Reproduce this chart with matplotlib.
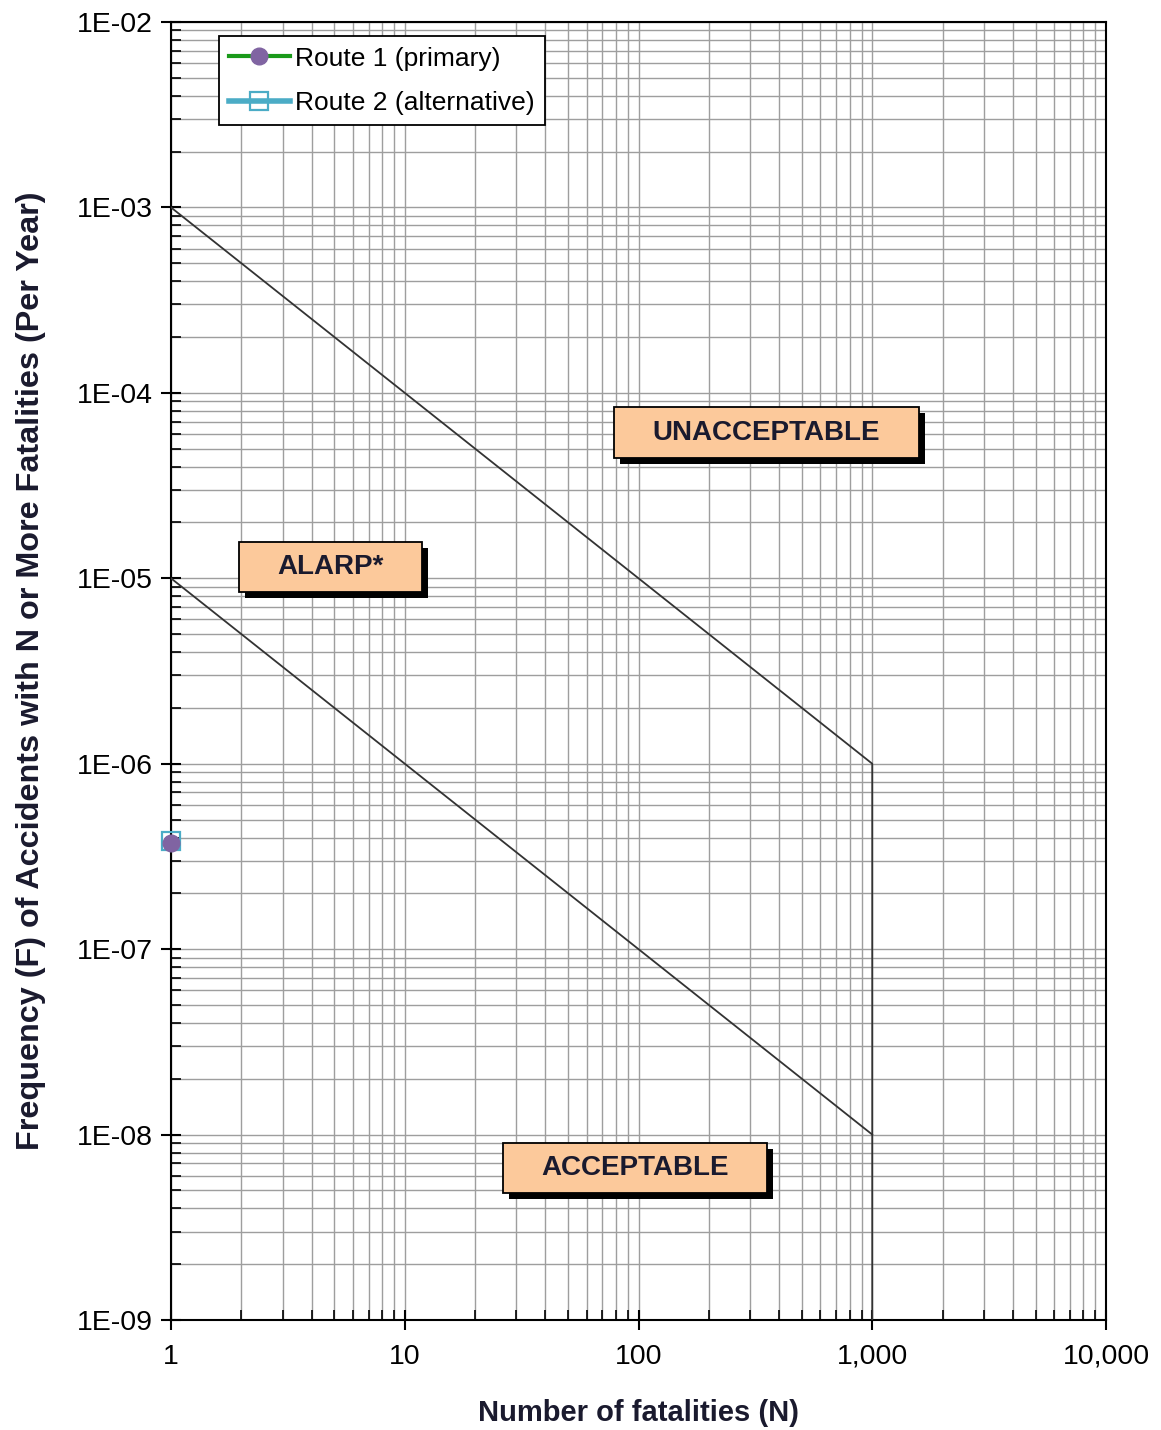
import matplotlib
matplotlib.use("Agg")
import matplotlib.pyplot as plt
import matplotlib.patheffects as pe
from matplotlib.path import Path
from matplotlib.ticker import FixedLocator, FixedFormatter, LogLocator, NullFormatter

plt.rcParams['font.family'] = ['Liberation Sans', 'DejaVu Sans']

# Societal risk criteria (F-N lines)
upper_n = [1, 1000, 1000]
upper_f = [1e-3, 1e-6, 1e-9]
lower_n = [1, 1000]
lower_f = [1e-5, 1e-8]

# Route results
route1_n = [1]
route1_f = [3.75e-7]
route2_n = [1]
route2_f = [3.85e-7]

x_ticks = [1, 10, 100, 1000, 10000]
x_labels = ["1", "10", "100", "1,000", "10,000"]
y_ticks = [1e-9, 1e-8, 1e-7, 1e-6, 1e-5, 1e-4, 1e-3, 1e-2]
y_labels = ["1E-09", "1E-08", "1E-07", "1E-06", "1E-05", "1E-04", "1E-03", "1E-02"]

region_labels = ["UNACCEPTABLE", "ALARP*", "ACCEPTABLE"]
region_n = [353, 4.8, 97]
region_f = [6.1e-5, 1.15e-5, 6.6e-9]


def wide_box(x0, y0, width, height, mutation_size):
    """Rectangle with wider horizontal than vertical padding."""
    px = 1.38 * mutation_size
    py = 0.44 * mutation_size
    x0, y0 = x0 - px, y0 - py
    x1, y1 = x0 + width + 2 * px, y0 + height + 2 * py
    return Path([(x0, y0), (x1, y0), (x1, y1), (x0, y1), (x0, y0)],
                closed=True)


fig = plt.figure(figsize=(11.61, 14.30), dpi=100)
ax = fig.add_axes([171 / 1161, 110 / 1430, 935 / 1161, 1298 / 1430])
ax.set_xscale('log')
ax.set_yscale('log')
ax.set_xlim(1, 10000)
ax.set_ylim(1e-9, 1e-2)

ax.grid(which='both', color='#9e9e9e', linewidth=1.0)
ax.set_axisbelow(True)

ax.plot(upper_n, upper_f, color='#333333', linewidth=1.3, zorder=3)
ax.plot(lower_n, lower_f, color='#333333', linewidth=1.3, zorder=3)

ax.plot(route2_n, route2_f, color='#4bacc6', linewidth=4, marker='s',
        markersize=13, markerfacecolor='none', markeredgecolor='#4bacc6',
        markeredgewidth=1.6, label='Route 2 (alternative)', zorder=5, clip_on=False)
ax.plot(route1_n, route1_f, color='#1a9a1a', linewidth=3, marker='o',
        markersize=12, markerfacecolor='#8064a2', markeredgecolor='#8064a2',
        label='Route 1 (primary)', zorder=6, clip_on=False)

handles, labels = ax.get_legend_handles_labels()
leg = ax.legend(handles[::-1], labels[::-1], loc='upper left',
                bbox_to_anchor=(0.051, 0.989), fontsize=19, frameon=True,
                fancybox=False, edgecolor='black', framealpha=1,
                handlelength=2.3, handletextpad=0.2, borderpad=0.39,
                labelspacing=0.78, borderaxespad=0)
leg.get_frame().set_linewidth(1.3)

# Region labels in boxes with a solid drop shadow
for text, n, f in zip(region_labels, region_n, region_f):
    t = ax.text(n, f, text, ha='center', va='center', fontsize=20,
                fontweight='bold', color='#1a1a2e', zorder=8,
                bbox=dict(boxstyle=wide_box, facecolor='#fcc99b',
                          edgecolor='black', linewidth=1.3))
    t.get_bbox_patch().set_path_effects([
        pe.SimplePatchShadow(offset=(4.3, -4.3), shadow_rgbFace='black',
                             alpha=1.0),
        pe.Normal(),
    ])

ax.xaxis.set_major_locator(FixedLocator(x_ticks))
ax.xaxis.set_major_formatter(FixedFormatter(x_labels))
ax.xaxis.set_minor_locator(LogLocator(base=10, subs=range(2, 10), numticks=20))
ax.xaxis.set_minor_formatter(NullFormatter())
ax.yaxis.set_major_locator(FixedLocator(y_ticks))
ax.yaxis.set_major_formatter(FixedFormatter(y_labels))
ax.yaxis.set_minor_locator(LogLocator(base=10, subs=range(2, 10), numticks=20))
ax.yaxis.set_minor_formatter(NullFormatter())

ax.tick_params(which='major', direction='inout', length=14, width=1.5,
               labelsize=20.5, pad=6)
ax.tick_params(which='minor', direction='in', length=7, width=1.2)
ax.tick_params(axis='x', which='major', pad=10)

for sp in ax.spines.values():
    sp.set_linewidth(1.5)
    sp.set_color('black')

ax.set_xlabel('Number of fatalities (N)', fontsize=21, fontweight='bold',
              color='#1a1a2e', labelpad=21)
ax.set_ylabel('Frequency (F) of Accidents with N or More Fatalities (Per Year)',
              fontsize=23.3, fontweight='bold', color='#1a1a2e', labelpad=22)

fig.savefig('out.png', dpi=100)
